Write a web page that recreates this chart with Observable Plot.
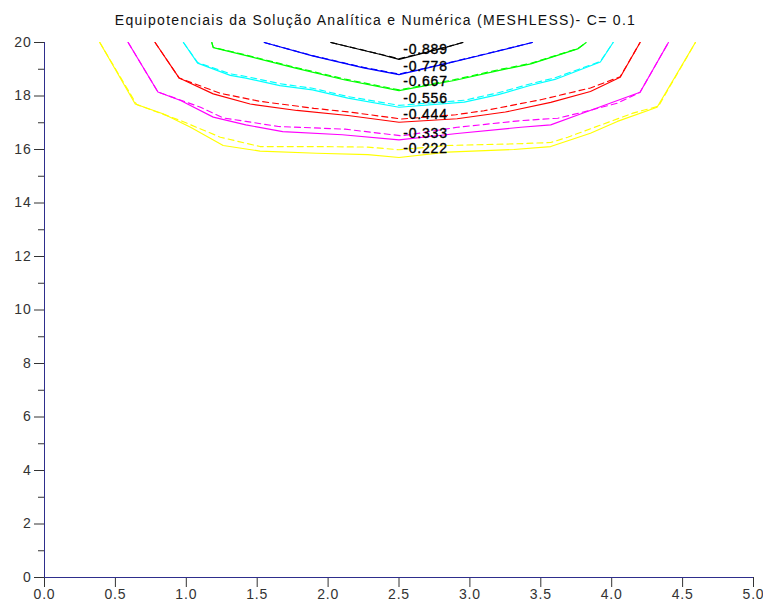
<!DOCTYPE html>
<html>
<head>
<meta charset="utf-8">
<script src="https://cdn.jsdelivr.net/npm/d3@7"></script>
<script src="https://cdn.jsdelivr.net/npm/@observablehq/plot@0.6"></script>
<style>
  html, body { margin: 0; padding: 0; background: #fff; }
  #wrap { position: relative; width: 763px; height: 605px; }
  #title { position: absolute; top: 12px; left: -6px; width: 763px; text-align: center;
           font-family: "Liberation Sans", Arial, sans-serif; font-size: 14px; color: #111;
           letter-spacing: 1.3px; }
  svg text { letter-spacing: 0.8px; }
</style>
</head>
<body>
<div id="wrap"><div id="title">Equipotenciais da Solução Analítica e Numérica (MESHLESS)- C= 0.1</div></div>
<script>
// contour levels and colours
const levels = [0.222, 0.333, 0.444, 0.556, 0.667, 0.778, 0.889];
const levelColors = ["#ffff00", "#ff00ff", "#ff0000", "#00ffff", "#00ff00", "#0000ff", "#000000"];
const levelLabels = ["-0.222", "-0.333", "-0.444", "-0.556", "-0.667", "-0.778", "-0.889"];
const labelX = [2.53, 2.53, 2.53, 2.53, 2.53, 2.53, 2.53];
const labelY = [16.05, 16.61, 17.30, 17.92, 18.54, 19.10, 19.73];

// tick values
const xTicks = [0, 0.5, 1, 1.5, 2, 2.5, 3, 3.5, 4, 4.5, 5];
const yTicks = [0, 2, 4, 6, 8, 10, 12, 14, 16, 18, 20];
const yMinorTicks = [1, 3, 5, 7, 9, 11, 13, 15, 17, 19];

// level 0.222 (yellow)
const solid222X = [0.39, 0.64, 0.84, 1.03, 1.26, 1.52, 1.92, 2.28, 2.50, 2.84, 3.31, 3.57, 3.85, 4.04, 4.32, 4.59];
const solid222Y = [20.0, 17.70, 17.33, 16.83, 16.15, 15.94, 15.86, 15.81, 15.70, 15.90, 16.00, 16.11, 16.61, 17.05, 17.58, 20.0];
const dashed222X = [0.39, 0.65, 0.96, 1.24, 1.52, 1.90, 2.28, 2.50, 2.84, 3.31, 3.57, 3.69, 4.15, 4.33, 4.59];
const dashed222Y = [20.0, 17.68, 17.08, 16.46, 16.11, 16.11, 16.09, 15.99, 16.15, 16.21, 16.26, 16.46, 17.36, 17.62, 20.0];

// level 0.333 (magenta)
const solid333X = [0.59, 0.80, 0.96, 1.19, 1.42, 1.68, 2.10, 2.50, 2.91, 3.36, 3.57, 3.78, 4.20, 4.40];
const solid333Y = [20.0, 18.15, 17.83, 17.21, 16.92, 16.67, 16.55, 16.36, 16.60, 16.83, 16.92, 17.33, 18.14, 20.0];
const dashed333X = [0.59, 0.80, 1.10, 1.26, 1.42, 1.65, 2.12, 2.52, 2.91, 3.36, 3.62, 3.80, 4.04, 4.20, 4.40];
const dashed333Y = [20.0, 18.15, 17.58, 17.18, 17.05, 16.86, 16.76, 16.51, 16.83, 17.08, 17.17, 17.40, 17.73, 18.14, 20.0];

// level 0.444 (red)
const solid444X = [0.78, 0.95, 1.19, 1.45, 1.78, 2.14, 2.50, 2.91, 3.25, 3.57, 3.85, 4.06, 4.20];
const solid444Y = [20.0, 18.67, 18.08, 17.70, 17.46, 17.27, 17.02, 17.15, 17.40, 17.76, 18.17, 18.70, 20.0];
const dashed444X = [0.78, 0.95, 1.24, 1.52, 1.90, 2.15, 2.52, 2.90, 3.10, 3.50, 3.85, 4.06, 4.20];
const dashed444Y = [20.0, 18.67, 18.10, 17.80, 17.54, 17.40, 17.14, 17.30, 17.45, 17.86, 18.30, 18.72, 20.0];

// level 0.556 (cyan)
const solid556X = [0.98, 1.08, 1.31, 1.42, 1.66, 1.89, 2.14, 2.50, 2.96, 3.20, 3.43, 3.60, 3.92, 4.01];
const solid556Y = [20.0, 19.23, 18.77, 18.67, 18.39, 18.23, 17.92, 17.58, 17.77, 18.05, 18.40, 18.62, 19.27, 20.0];
const dashed556X = [0.98, 1.08, 1.31, 1.42, 1.66, 1.89, 2.14, 2.50, 2.96, 3.20, 3.43, 3.60, 3.92, 4.01];
const dashed556Y = [20.0, 19.25, 18.83, 18.73, 18.46, 18.29, 17.98, 17.65, 17.84, 18.12, 18.46, 18.68, 19.29, 20.0];

// level 0.667 (green)
const solid667X = [1.18, 1.19, 1.43, 1.77, 2.12, 2.50, 2.89, 3.20, 3.43, 3.76, 3.82];
const solid667Y = [20.0, 19.81, 19.50, 19.04, 18.60, 18.20, 18.58, 18.95, 19.20, 19.76, 20.0];
const dashed667X = [1.18, 1.19, 1.43, 1.77, 2.12, 2.50, 2.89, 3.20, 3.43, 3.76, 3.82];
const dashed667Y = [20.0, 19.82, 19.52, 19.07, 18.63, 18.23, 18.61, 18.98, 19.22, 19.77, 20.0];

// level 0.778 (blue)
const solid778X = [1.55, 1.89, 2.25, 2.50, 2.84, 3.10, 3.44];
const solid778Y = [20.0, 19.50, 19.05, 18.80, 19.22, 19.55, 20.0];
const dashed778X = [1.55, 1.89, 2.25, 2.50, 2.84, 3.10, 3.44];
const dashed778Y = [20.0, 19.51, 19.07, 18.82, 19.23, 19.56, 20.0];

// level 0.889 (black)
const solid889X = [2.02, 2.37, 2.50, 2.84, 2.95];
const solid889Y = [20.0, 19.55, 19.37, 19.83, 20.0];
const dashed889X = [2.02, 2.37, 2.50, 2.84, 2.95];
const dashed889Y = [20.0, 19.56, 19.39, 19.84, 20.0];

const solidX = [solid222X, solid333X, solid444X, solid556X, solid667X, solid778X, solid889X];
const solidY = [solid222Y, solid333Y, solid444Y, solid556Y, solid667Y, solid778Y, solid889Y];
const dashedX = [dashed222X, dashed333X, dashed444X, dashed556X, dashed667X, dashed778X, dashed889X];
const dashedY = [dashed222Y, dashed333Y, dashed444Y, dashed556Y, dashed667Y, dashed778Y, dashed889Y];

function rows(xs, ys, kind) {
  const out = [];
  xs.forEach((arr, i) => arr.forEach((x, j) => out.push({x, y: ys[i][j], level: levels[i], color: levelColors[i], id: kind + i})));
  return out;
}
const solidRows = rows(solidX, solidY, "s");
const dashedRows = rows(dashedX, dashedY, "d");
const labelRows = levels.map((l, i) => ({x: labelX[i], y: labelY[i], text: levelLabels[i]}));

const axisColor = "#2e2e8c";
const marks = [
  Plot.line(solidRows, {x: "x", y: "y", z: "id", stroke: "color", strokeWidth: 1.15}),
  Plot.line(dashedRows, {x: "x", y: "y", z: "id", stroke: "color", strokeWidth: 1.15, strokeDasharray: "6,4"}),
  Plot.text(labelRows, {x: "x", y: "y", text: "text", textAnchor: "start", fill: "#000", stroke: "#000", strokeWidth: 0.35, fontSize: 14}),
  Plot.axisY({ticks: yTicks, tickSize: 10, tickPadding: 3, tickFormat: d => String(d), label: null, stroke: "#333", fill: "#333"}),
  Plot.axisY({ticks: yMinorTicks, tickSize: 6, tickFormat: () => "", label: null, stroke: "#333"}),
  Plot.axisX({ticks: xTicks, tickSize: 10, tickPadding: 2, tickFormat: d3.format(".1f"), label: null, stroke: "#333", fill: "#333"}),
  Plot.ruleX([0], {stroke: axisColor}),
  Plot.ruleY([0], {stroke: axisColor})
];

const chart = Plot.plot({
  width: 763,
  height: 605,
  marginLeft: 44,
  marginRight: 10,
  marginTop: 42,
  marginBottom: 28,
  style: {fontFamily: "'Liberation Sans', Arial, sans-serif", fontSize: "14px", color: "#333", background: "#fff"},
  x: {domain: [0, 5]},
  y: {domain: [0, 20]},
  marks
});
document.getElementById("wrap").appendChild(chart);
chart.style.position = "absolute";
chart.style.left = "0";
chart.style.top = "0";
document.getElementById("title").style.zIndex = "2";
</script>
</body>
</html>
